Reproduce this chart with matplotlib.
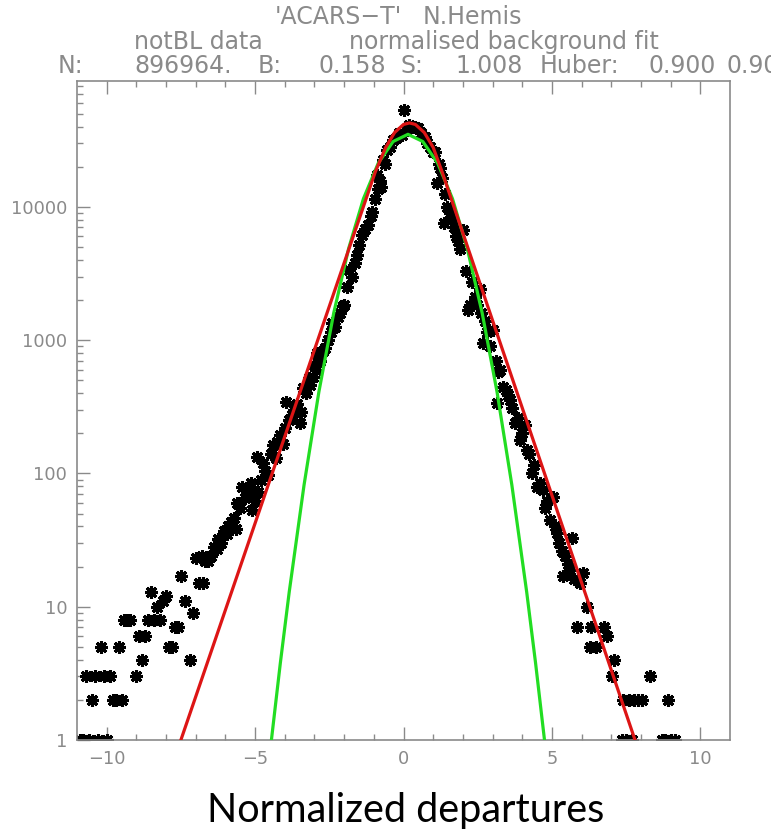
import matplotlib
matplotlib.use('Agg')
import matplotlib.pyplot as plt
from matplotlib.ticker import FixedLocator, FixedFormatter, NullFormatter

# ---------------- data ----------------
# histogram counts (asterisks), left tail
left_x = [-10.9, -10.8, -10.7, -10.6, -10.5, -10.4, -10.3, -10.2, -10.1, -10.0,
          -9.9, -9.8, -9.7, -9.6, -9.5, -9.4, -9.3, -9.2, -9.0, -8.9,
          -8.8, -8.7, -8.6, -8.5, -8.4, -8.3, -8.2, -8.1, -8.0, -7.9,
          -7.8, -7.7, -7.6, -7.5, -7.35, -7.2, -7.1, -7.0, -6.9, -6.8,
          -6.75, -6.7, -6.6, -6.5, -6.4, -6.3, -6.25, -6.15, -6.05, -5.95,
          -5.9, -5.8, -5.7, -5.65, -5.6, -5.5, -5.45, -5.35, -5.25, -5.15,
          -5.1, -5.0, -4.95, -4.9, -4.8, -4.75, -4.65, -4.55, -4.45, -4.4,
          -4.3, -4.25, -4.15, -4.05, -4.0, -3.95, -3.85, -3.75, -3.7, -3.6,
          -3.5, -3.45, -3.4, -3.3, -3.2, -3.15, -3.05, -3.0, -2.95, -2.9,
          -2.8, -2.7, -2.65, -2.55, -2.45, -2.4, -2.3, -2.2, -2.15, -2.05]
left_y = [1, 1, 3, 1, 2, 3, 1, 5, 3, 1,
          3, 2, 2, 5, 2, 8, 8, 8, 3, 6,
          4, 6, 8, 13, 8, 10, 8, 11, 12, 5,
          5, 7, 7, 17, 11, 4, 9, 23, 15, 24,
          15, 22, 22, 24, 28, 27, 32, 30, 37, 35,
          40, 43, 46, 38, 60, 55, 79, 65, 71, 85,
          53, 62, 133, 73, 90, 120, 105, 97, 140, 162,
          130, 172, 195, 165, 219, 344, 250, 273, 300, 330,
          239, 290, 436, 400, 520, 460, 530, 650, 595, 800,
          700, 830, 870, 1000, 1150, 1340, 1250, 1500, 1600, 1800]

# histogram counts, core
core_x = [-2.0, -1.9, -1.85, -1.75, -1.65, -1.55, -1.5, -1.4, -1.3, -1.2,
          -1.1, -1.05, -0.95, -0.9, -0.85, -0.8, -0.75, -0.68, -0.62, -0.55,
          -0.45, -0.35, -0.25, -0.15, -0.05, 0.02, 0.1, 0.2, 0.3, 0.4,
          0.5, 0.6, 0.72, 0.8, 0.9, 1.0, 1.06, 1.12, 1.18, 1.23,
          1.3, 1.35, 1.4, 1.46, 1.55, 1.62, 1.7, 1.78, 1.85, 1.9,
          2.0, 2.1, 2.17, 2.24, 2.3, 2.4, 2.47, 2.57, 2.6, 2.68]
core_y = [1830, 2500, 3350, 3000, 3800, 4350, 5200, 6100, 6800, 7300,
          8500, 9100, 11500, 17300, 13500, 15500, 14000, 22500, 21000, 26600,
          28000, 31700, 33000, 35500, 34600, 53200, 38000, 41000, 40000, 39500,
          39000, 36000, 33400, 30000, 28000, 26000, 25800, 15000, 21000, 19500,
          16500, 7600, 12500, 10000, 9000, 8200, 7000, 6000, 5500, 4800,
          6700, 3300, 1680, 1830, 2740, 2100, 1830, 2400, 1600, 950]

# histogram counts, right tail
right_x = [2.75, 2.8, 2.9, 3.0, 3.1, 3.15, 3.18, 3.25, 3.35, 3.45,
           3.52, 3.59, 3.67, 3.75, 3.85, 3.92, 4.0, 4.08, 4.15, 4.22,
           4.32, 4.4, 4.5, 4.6, 4.7, 4.76, 4.85, 4.93, 5.03, 5.1,
           5.16, 5.25, 5.33, 5.37, 5.45, 5.54, 5.6, 5.67, 5.75, 5.83,
           5.94, 6.05, 6.17, 6.27, 6.33, 6.5, 6.77, 6.84, 7.02, 7.1,
           7.35, 7.4, 7.5, 7.6, 7.7, 7.75, 7.9, 8.05, 8.3, 8.7,
           8.8, 8.9, 9.0, 9.15]
right_y = [1400, 1150, 900, 1200, 700, 340, 575, 600, 445, 420,
           390, 355, 310, 240, 260, 178, 200, 230, 150, 140,
           100, 115, 79, 85, 75, 55, 62, 45, 67, 40,
           36, 30, 26, 17, 24, 21, 19, 33, 16, 7,
           15, 18, 10, 5, 7, 5, 7, 6, 3, 4,
           1, 2, 1, 2, 1, 2, 2, 2, 3, 1,
           1, 2, 1, 1]

# normalised Gaussian background fit (green)
green_x = [-4.45, -4.15, -3.85, -3.35, -2.85, -2.35, -1.85, -1.35, -0.85, -0.35,
           0.15, 0.65, 1.15, 1.65, 2.15, 2.65, 3.15, 3.65, 4.15, 4.45, 4.75]
green_y = [1.0, 3.77, 12.9, 82, 410, 1600, 4850, 11500, 21300, 30900,
           35000, 30900, 21300, 11500, 4850, 1600, 410, 82, 12.9, 3.77, 1.0]

# Huber fit (red)
red_x = [-7.5, -4.0, -0.95, -0.6, -0.3, 0.0, 0.2, 0.4, 0.7, 1.0, 1.3, 4.5, 7.8]
red_y = [1.0, 189, 18300, 27900, 36100, 41500, 42600, 41500, 36100, 27900, 18300, 146, 1.0]

x_major = [-10, -5, 0, 5, 10]
x_major_labels = ['\u221210', '\u22125', '0', '5', '10']
x_minor = [-9, -8, -7, -6, -4, -3, -2, -1, 1, 2, 3, 4, 6, 7, 8, 9]
y_major = [1, 10, 100, 1000, 10000]
y_major_labels = ['1', '10', '100', '1000', '10000']

# ---------------- figure ----------------
W, H = 771, 836
fig = plt.figure(figsize=(W / 100, H / 100), dpi=100)
L, R, T, B = 77, 730, 81, 740
ax = fig.add_axes([L / W, 1 - B / H, (R - L) / W, (B - T) / H])
ax.set_yscale('log')
ax.set_xlim(-11, 11)
ax.set_ylim(1, 87900)

ax.plot(left_x + core_x + right_x, left_y + core_y + right_y, linestyle='none',
        marker=(8, 2, 0), ms=9.3, mew=2.2, color='black', zorder=2)
ax.plot(green_x, green_y, color='#22dd22', lw=2.3, zorder=3)
ax.plot(red_x, red_y, color='#dd1515', lw=2.3, zorder=4)

gray = '#8a8a8a'
for s in ax.spines.values():
    s.set_color(gray)
    s.set_linewidth(1.2)

ax.xaxis.set_major_locator(FixedLocator(x_major))
ax.xaxis.set_major_formatter(FixedFormatter(x_major_labels))
ax.xaxis.set_minor_locator(FixedLocator(x_minor))
ax.xaxis.set_minor_formatter(NullFormatter())

minor_y = [m * 10 ** e for e in range(0, 5) for m in range(2, 10) if m * 10 ** e < 87900]
ax.yaxis.set_major_locator(FixedLocator(y_major))
ax.yaxis.set_major_formatter(FixedFormatter(y_major_labels))
ax.yaxis.set_minor_locator(FixedLocator(minor_y))
ax.yaxis.set_minor_formatter(NullFormatter())

ax.tick_params(axis='both', which='both', direction='in', color=gray, labelcolor=gray,
               width=1.0, labelsize=12.8)
ax.tick_params(axis='x', which='both', top=True, bottom=True, labeltop=False, pad=7)
ax.tick_params(axis='y', which='both', left=True, right=False, pad=7)
ax.tick_params(which='major', length=9.5)
ax.tick_params(which='minor', length=4.5)

# ---------------- header text ----------------
def t(x, base, s, size=17):
    fig.text(x / W, 1 - base / H, s, ha='left', va='baseline', fontsize=size, color=gray)

t(275, 24, "'ACARS\u2212T'")
t(423, 24, "N.Hemis")
t(134, 49, "notBL data")
t(349, 49, "normalised background fit")
t(58, 73, "N:")
t(134, 73, "896964.")
t(258, 73, "B:")
t(318, 73, "0.158")
t(400, 73, "S:")
t(455, 73, "1.008")
t(540, 73, "Huber:")
t(648, 73, "0.900")
t(727, 73, "0.900")

fig.text(406 / W, 1 - 822 / H, "Normalized departures", ha='center', va='baseline',
         fontsize=28.5, color='black', family='Lato')

fig.savefig('out.png', dpi=100)
